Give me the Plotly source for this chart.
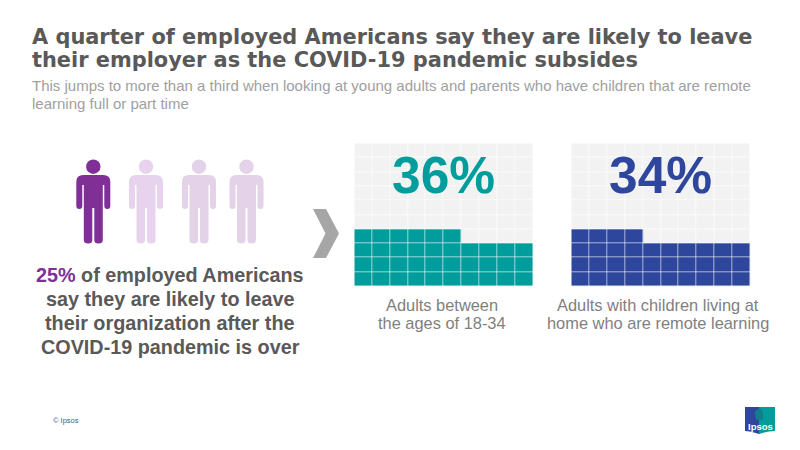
import plotly.graph_objects as go

# ---- data ----
TITLE_LINES = ["A quarter of employed Americans say they are likely to leave",
               "their employer as the COVID-19 pandemic subsides"]
SUBTITLE_LINES = ["This jumps to more than a third when looking at young adults and parents who have children that are remote",
                  "learning full or part time"]
OVERALL_PCT = 25
PEOPLE_COUNT = 4
LEFT_LINES = ["<span style='color:#7F2F96'>25%</span> of employed Americans",
              "say they are likely to leave",
              "their organization after the",
              "COVID-19 pandemic is over"]
WAFFLE_VALUES = [36, 34]
WAFFLE_LABELS = ["36%", "34%"]
WAFFLE_COLORS = ["#009D9C", "#2E469B"]
WAFFLE_CAPTIONS = [["Adults between", "the ages of 18-34"],
                   ["Adults with children living at", "home who are remote learning"]]
FOOTER = "© Ipsos"

W, H = 800, 450
FONT = "Liberation Sans"
TITLE_FONT = "DejaVu Sans"
DARK = "#595959"
WAFFLE_X = [(354.3, 533.0), (571.3, 750.3)]
WAFFLE_Y = (143.3, 286.3)
CAPTION_CX = [441.5, 657.5]
N = 10


def waffle_z(v):
    return [[1 if r * N + c < v else 0 for c in range(N)] for r in range(N)]


def person_path(cx):
    return (f"M {cx-17} 182 Q {cx-17} 175 {cx-10} 175 L {cx+10} 175 Q {cx+17} 175 {cx+17} 182 "
            f"L {cx+17} 206 Q {cx+17} 209 {cx+14} 209 Q {cx+11} 209 {cx+11} 206 L {cx+11} 185 "
            f"L {cx+9.5} 185 L {cx+9.5} 240 Q {cx+9.5} 243.5 {cx+5} 243.5 Q {cx+1} 243.5 {cx+1} 240 "
            f"L {cx+1} 208 L {cx-1} 208 L {cx-1} 240 Q {cx-1} 243.5 {cx-5} 243.5 Q {cx-9.5} 243.5 {cx-9.5} 240 "
            f"L {cx-9.5} 185 L {cx-11} 185 L {cx-11} 206 Q {cx-11} 209 {cx-14} 209 Q {cx-17} 209 {cx-17} 206 Z")


fig = go.Figure()
layout = dict(
    width=W, height=H, margin=dict(l=0, r=0, t=0, b=0, pad=0),
    paper_bgcolor="white", plot_bgcolor="white", showlegend=False,
    xaxis=dict(range=[0, W], domain=[0, 1], visible=False, fixedrange=True),
    yaxis=dict(range=[H, 0], domain=[0, 1], visible=False, fixedrange=True),
)
fig.add_trace(go.Scatter(x=[0], y=[0], mode="markers", marker=dict(opacity=0), hoverinfo="skip"))

for i, (v, col) in enumerate(zip(WAFFLE_VALUES, WAFFLE_COLORS)):
    ax = i + 2
    fig.add_trace(go.Heatmap(z=waffle_z(v), xaxis=f"x{ax}", yaxis=f"y{ax}", zmin=0, zmax=1,
                             colorscale=[[0, "#F2F2F2"], [1, col]], showscale=False,
                             xgap=0.6, ygap=0.6, hoverinfo="skip"))
    layout[f"xaxis{ax}"] = dict(domain=[WAFFLE_X[i][0] / W, WAFFLE_X[i][1] / W], visible=False,
                                range=[-0.5, N - 0.5], fixedrange=True, anchor=f"y{ax}")
    layout[f"yaxis{ax}"] = dict(domain=[1 - WAFFLE_Y[1] / H, 1 - WAFFLE_Y[0] / H], visible=False,
                                range=[-0.5, N - 0.5], fixedrange=True, anchor=f"x{ax}")

shapes, ann = [], []


def text(x, y, s, size, color, family=FONT, bold=False, anchor="left"):
    ann.append(dict(x=x, y=y, xref="x", yref="y", text=f"<b>{s}</b>" if bold else s, showarrow=False,
                    xanchor=anchor, yanchor="middle", align=anchor,
                    font=dict(size=size, color=color, family=family)))


for s, y in zip(TITLE_LINES, [37, 60]):
    text(30, y, s, 20.9, DARK, TITLE_FONT, True)
for s, y in zip(SUBTITLE_LINES, [85, 103]):
    text(30, y, s, 15, "#A0A0A0")
for s, y in zip(LEFT_LINES, [275, 299, 323, 347]):
    text(170, y, s, 19.8, DARK, FONT, True, "center")

highlighted = round(PEOPLE_COUNT * OVERALL_PCT / 100)
people_cx = [93.3, 146, 199, 246.5]
people_col = ["#7F2F96", "#E8D3EF", "#E3D2E8", "#E3D2E8"]
for i, (cx, c) in enumerate(zip(people_cx, people_col)):
    if i < highlighted:
        c = "#7F2F96"
    shapes.append(dict(type="circle", xref="x", yref="y", x0=cx - 7.2, x1=cx + 7.2, y0=159.5, y1=173.9,
                       fillcolor=c, line_width=0, layer="above"))
    shapes.append(dict(type="path", xref="x", yref="y", path=person_path(cx), fillcolor=c, line_width=0,
                       layer="above"))

shapes.append(dict(type="path", xref="x", yref="y", fillcolor="#A6A6A6", line_width=0, layer="above",
                   path="M 313 209 L 326 209 L 339 233.5 L 326 258 L 313 258 L 325.5 233.5 Z"))

for i in range(2):
    cx = sum(WAFFLE_X[i]) / 2
    text(cx, 175, WAFFLE_LABELS[i], 51.5, WAFFLE_COLORS[i], FONT, True, "center")
    for s, y in zip(WAFFLE_CAPTIONS[i], [305, 323]):
        text(CAPTION_CX[i], y, s, 16.4, "#7F7F7F", FONT, False, "center")

text(51, 420, FOOTER, 7.5, "#4A5A8A")

# logo
shapes.append(dict(type="path", xref="x", yref="y", fillcolor="#2E469B", line_width=0, layer="above",
                   path="M 745 407 L 759 407 L 759 434 Q 750 431 745 431 Z"))
shapes.append(dict(type="path", xref="x", yref="y", fillcolor="#009D9C", line_width=0, layer="above",
                   path="M 759 407 L 775 407 L 775 431 Q 768 431 759 434 Z"))
shapes.append(dict(type="path", xref="x", yref="y", fillcolor="#0F7F8C", line_width=0, layer="above",
                   path="M 760 409 Q 755 409 755 414 Q 755 418 757 420 L 763 420 L 763 415 Q 763 409 760 409 Z"))
text(760, 426, "Ipsos", 9.5, "white", FONT, True, "center")

layout["shapes"] = shapes
layout["annotations"] = ann
fig.update_layout(**layout)
fig.write_html("out.html", config=dict(displayModeBar=False),
               post_script="document.body.style.margin='0';")
